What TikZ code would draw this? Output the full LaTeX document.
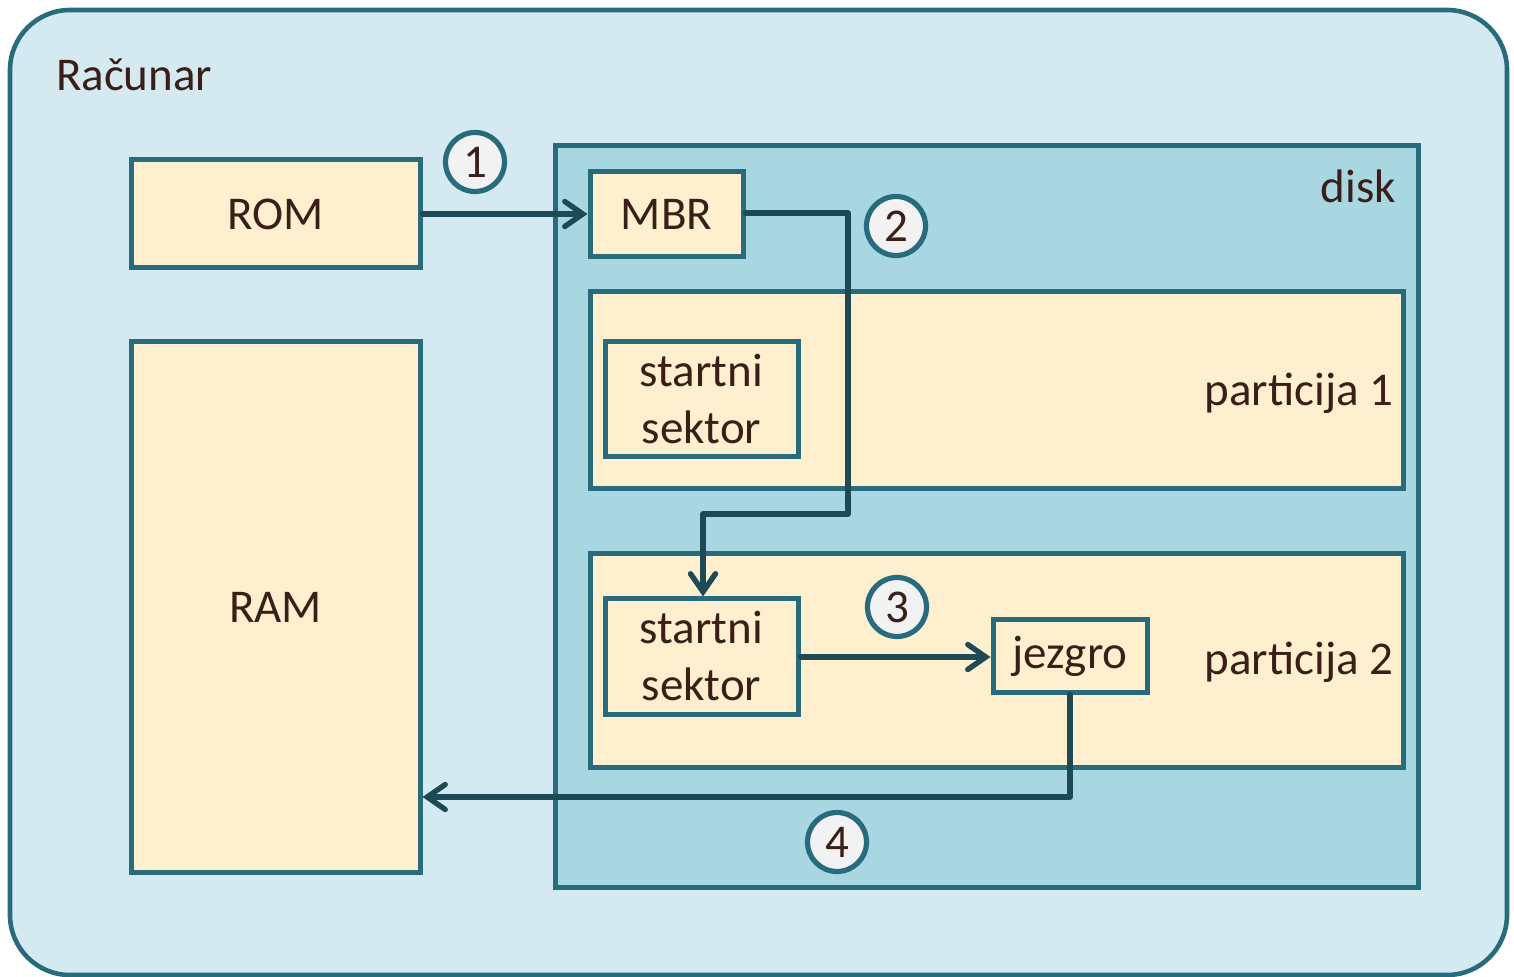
\documentclass[tikz,border=0pt]{standalone}
\usepackage{fontspec}
\setmainfont{Carlito}
\usetikzlibrary{arrows.meta,fit}
\definecolor{outerbg}{HTML}{D4EAF0}
\definecolor{diskbg}{HTML}{A8D7E2}
\definecolor{cream}{HTML}{FEF0CF}
\definecolor{edge}{HTML}{276B7D}
\definecolor{wire}{HTML}{1D4A55}
\definecolor{ink}{HTML}{3B1E17}
\definecolor{badgebg}{HTML}{F2F2F2}
\tikzset{
  txt/.style={text=ink, font=\fontsize{23.5pt}{28.5pt}\selectfont},
  box/.style={draw=edge, line width=2.5pt, fill=cream, inner sep=0pt, txt, align=center},
  badge/.style={circle, draw=edge, line width=2.6pt, fill=badgebg, minimum size=29.5pt, inner sep=0pt, txt},
  flow/.style={draw=wire, line width=2.7pt, line cap=round, line join=round,
    -{Straight Barb[length=9pt,width=12.5pt,line cap=round]}},
}
\begin{document}
\begin{tikzpicture}[x=0.5pt,y=-0.5pt]
\useasboundingbox (0,0) rectangle (1514,977);
% computer outline
\draw[draw=edge, line width=2.3pt, fill=outerbg, rounded corners=30pt] (10,10) rectangle (1507,975);
\node[txt, anchor=west] (racunar) at (49,75) {Računar};
% disk area
\node[draw=edge, line width=2.5pt, fill=diskbg, inner sep=0pt, fit={(555,146) (1418,887)}] (disk) {};
\node[txt, anchor=east] (disklbl) at (1403,186) {disk};
% memories
\node[box, fit={(131,160) (420,268)}] (rom) {};
\node[txt] at (rom.center) {ROM};
\node[box, fit={(131,342) (420,872)}] (ram) {};
\node[txt] at (ram.center) {RAM};
% disk contents
\node[box, fit={(590,172) (743,257)}] (mbr) {};
\node[txt] at (mbr.center) {MBR};
\node[box, fit={(590,292) (1403,489)}] (p1) {};
\node[txt] (p1lbl) at (1299,393) {particija 1};
\node[box, fit={(605,342) (798,457)}] (ss1) {};
\node[txt, align=center] at (ss1.center) {startni\\sektor};
\node[box, fit={(590,554) (1403,767)}] (p2) {};
\node[txt] (p2lbl) at (1299,662) {particija 2};
\node[box, fit={(605,599) (798,714)}] (ss2) {};
\node[txt, align=center] at (ss2.center) {startni\\sektor};
\node[box, fit={(993,620) (1147,692)}] (jez) {};
\node[txt] at (jez.center) {jezgro};
% step badges
\node[badge] (b1) at (475,162) {1};
\node[badge] (b2) at (896,226) {2};
\node[badge] (b3) at (897,607) {3};
\node[badge] (b4) at (837,842) {4};
% boot sequence
\draw[flow] (rom.east |- 0,214) -- (mbr.west |- 0,214);
\draw[flow] (mbr.east |- 0,213) -- (848,213) -- (848,514) -- (703,514) -- (703,0 |- ss2.north);
\draw[flow] (ss2.east |- 0,657) -- (jez.west |- 0,657);
\draw[flow] (1070,0 |- jez.south) -- (1070,797) -- (ram.east |- 0,797);
\end{tikzpicture}
\end{document}
